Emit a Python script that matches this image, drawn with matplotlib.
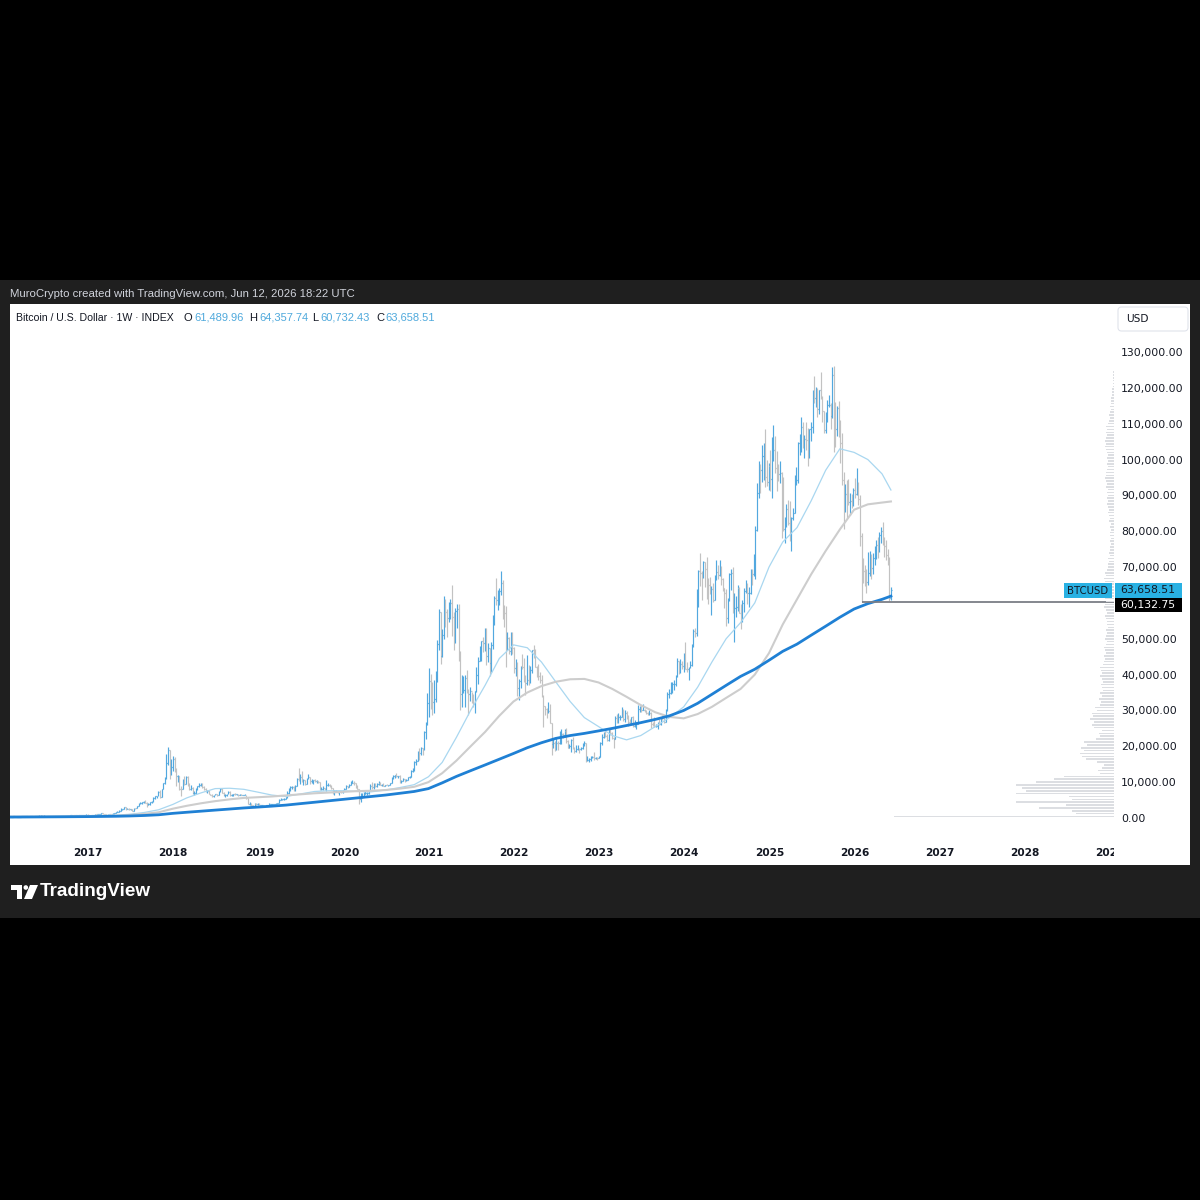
#BTCUSD weekly bars with 50/100/200 week SMAs and volume profile (TradingView export look)
import numpy as np
import pandas as pd
import matplotlib
matplotlib.use("Agg")
import matplotlib.pyplot as plt
import matplotlib.dates as mdates
from matplotlib.collections import LineCollection
from matplotlib.patches import Rectangle, FancyBboxPatch, Circle, Polygon
from matplotlib.ticker import FuncFormatter

#----------weekly bars, thousands of USD, weeks from Mon 2016-01-04 to 2026-06-08 /------------------------------
first_open_k = 0.43

close_k = [
    # 2016
    0.45, 0.38, 0.40, 0.37, 0.38, 0.40, 0.44, 0.43, 0.41, 0.41, 0.41, 0.42, 0.42,
    0.42, 0.43, 0.45, 0.46, 0.46, 0.46, 0.44, 0.53, 0.58, 0.67, 0.76, 0.63, 0.67,
    0.65, 0.66, 0.65, 0.62, 0.59, 0.58, 0.58, 0.57, 0.61, 0.61, 0.61, 0.60, 0.61,
    0.64, 0.65, 0.70, 0.73, 0.71, 0.70, 0.74, 0.74, 0.77, 0.78, 0.79, 0.90, 0.97,
    # 2017
    0.91, 0.82, 0.92, 0.92, 1.02, 1.01, 1.05, 1.19, 1.26, 1.24, 1.02, 0.97, 1.08,
    1.21, 1.18, 1.25, 1.35, 1.56, 1.72, 2.05, 2.19, 2.50, 2.98, 2.52, 2.59, 2.49,
    2.51, 1.93, 2.75, 2.73, 3.23, 4.06, 4.09, 4.35, 4.63, 4.15, 3.70, 3.78, 4.37,
    4.60, 5.69, 6.00, 6.14, 7.36, 5.95, 8.00, 9.70, 11.25, 15.3, 19.1, 13.9, 14.2,
    # 2018
    16.5, 13.6, 11.6, 11.8, 8.2, 8.1, 10.4, 9.6, 11.5, 9.5, 8.2, 8.4, 6.9,
    7.0, 8.3, 8.9, 9.3, 9.6, 8.7, 8.2, 7.3, 7.6, 6.7, 6.5, 6.2, 6.4,
    6.7, 6.35, 7.4, 8.2, 7.0, 6.3, 6.4, 6.7, 7.2, 6.3, 6.5, 6.7, 6.6,
    6.6, 6.5, 6.5, 6.4, 6.4, 6.4, 5.6, 4.0, 4.1, 3.6, 3.2, 4.0, 3.9, 4.0,
    # 2019
    3.5, 3.5, 3.6, 3.4, 3.6, 3.7, 3.8, 3.9, 3.9, 4.0, 4.0, 4.1, 5.1,
    5.1, 5.3, 5.3, 5.8, 7.0, 8.2, 8.7, 8.7, 7.6, 8.9, 10.9, 10.8,
    11.4, 10.2, 10.5, 9.5, 11.0, 11.4, 10.2, 10.2, 10.5, 10.3, 10.3, 10.0, 8.0, 8.1,
    8.3, 8.2, 9.2, 9.3, 8.8, 8.5, 7.4, 7.4, 7.5, 7.1, 7.5, 7.3, 7.8,
    # 2020
    8.2, 8.9, 8.6, 9.3, 9.9, 9.9, 9.7, 8.5, 8.0, 5.4, 5.8, 5.9, 6.8,
    6.9, 7.1, 7.7, 8.9, 8.7, 9.7, 8.8, 9.4, 9.7, 9.3, 9.3, 9.0, 9.3,
    9.2, 9.2, 9.7, 11.1, 11.8, 11.9, 11.6, 11.7, 10.3, 10.3, 11.0, 10.7, 10.7,
    11.4, 11.5, 13.1, 13.8, 15.5, 16.0, 18.7, 18.2, 19.4, 19.2, 23.9, 26.3, 32.2,
    # 2021
    38.2, 36.0, 32.3, 33.1, 39.3, 48.6, 57.4, 45.2, 51.0, 59.0, 57.4, 55.8, 57.0,
    60.0, 56.2, 49.0, 57.8, 58.2, 46.4, 34.7, 35.7, 35.8, 39.1, 35.6, 34.7, 35.3,
    33.8, 31.8, 35.4, 39.9, 43.8, 47.0, 49.3, 48.8, 51.8, 45.1, 47.3, 43.2, 48.2,
    54.7, 61.5, 60.9, 61.3, 63.3, 65.5, 59.0, 57.3, 49.4, 50.1, 46.7, 50.8, 47.3,
    # 2022
    41.9, 43.1, 36.3, 38.2, 42.4, 42.2, 38.3, 37.7, 38.4, 37.8, 41.3, 46.8, 46.4,
    42.2, 39.7, 39.5, 38.5, 34.1, 31.3, 30.3, 29.5, 29.9, 26.6, 20.6, 21.0, 19.3,
    20.9, 20.8, 22.6, 23.3, 23.2, 24.3, 21.5, 19.6, 20.0, 21.8, 19.4, 18.8, 19.3,
    19.4, 19.2, 19.6, 20.6, 20.9, 16.3, 16.3, 16.5, 17.1, 17.1, 16.8, 16.8, 16.6,
    # 2023
    17.1, 20.9, 22.7, 23.7, 22.9, 21.8, 24.3, 23.6, 22.4, 22.1, 28.0, 27.9, 28.2,
    28.3, 30.3, 27.6, 29.2, 28.4, 26.9, 26.8, 28.1, 25.8, 25.8, 26.3, 30.5, 30.6,
    30.2, 30.2, 29.8, 29.3, 29.0, 29.4, 26.1, 26.0, 25.8, 25.8, 26.5, 26.3, 28.0,
    27.9, 26.9, 30.0, 34.5, 35.0, 37.1, 37.4, 37.4, 39.5, 43.8, 41.4, 43.0, 42.3,
    # 2024
    43.9, 41.7, 41.6, 42.0, 42.6, 48.3, 52.1, 51.7, 63.1, 68.9, 68.4, 67.2, 71.3,
    69.4, 65.7, 64.9, 63.1, 64.0, 60.8, 66.9, 68.5, 67.8, 69.6, 66.7, 64.2, 62.7,
    55.9, 60.8, 68.2, 68.3, 58.1, 58.7, 58.9, 64.2, 57.3, 54.8, 59.9, 63.3, 65.6, 62.8,
    62.9, 69.0, 68.0, 68.7, 80.4, 90.6, 97.9, 97.2, 101.1, 104.4, 95.1, 93.7, 98.3,
    # 2025
    94.5, 101.1, 102.6, 97.7, 96.5, 96.1, 96.3, 94.2, 80.7, 82.6, 86.1, 82.3, 78.4,
    83.8, 85.2, 93.7, 94.3, 104.6, 106.5, 109.0, 104.6, 105.7, 105.5, 100.9, 108.4, 109.2,
    119.1, 117.3, 119.4, 114.2, 119.3, 117.4, 113.5, 108.2, 111.1, 115.3, 115.3, 112.2, 123.5,
    115.0, 108.6, 114.5, 110.5, 104.7, 94.4, 86.8, 90.4, 89.5, 88.2, 88.4, 87.6, 91.5,
    # 2026
    90.5, 93.5, 89.0, 78.7, 70.5, 68.8, 67.5, 65.8, 68.4, 71.5, 69.8, 72.4, 74.6,
    76.2, 75.0, 78.9, 80.2, 77.4, 76.0, 73.4, 72.5, 61.49, 63.66,
]

high_k = [
    # 2016
    0.46, 0.45, 0.41, 0.41, 0.39, 0.41, 0.45, 0.44, 0.44, 0.42, 0.42, 0.42, 0.43,
    0.43, 0.43, 0.45, 0.47, 0.47, 0.46, 0.46, 0.55, 0.59, 0.72, 0.78, 0.77, 0.70,
    0.68, 0.68, 0.68, 0.66, 0.63, 0.60, 0.59, 0.59, 0.61, 0.61, 0.62, 0.61, 0.61,
    0.64, 0.65, 0.71, 0.74, 0.74, 0.72, 0.75, 0.75, 0.77, 0.78, 0.79, 0.90, 0.98,
    # 2017
    1.15, 0.91, 0.93, 0.93, 1.04, 1.06, 1.06, 1.20, 1.27, 1.29, 1.25, 1.12, 1.10,
    1.21, 1.22, 1.26, 1.35, 1.58, 1.84, 2.11, 2.76, 2.60, 3.00, 2.98, 2.77, 2.69,
    2.63, 2.53, 2.84, 2.78, 3.28, 4.25, 4.49, 4.40, 4.77, 4.98, 4.43, 4.17, 4.40,
    4.63, 5.86, 6.10, 6.20, 7.49, 7.89, 8.12, 9.76, 11.4, 17.9, 19.8, 19.1, 16.5,
    # 2018
    17.2, 17.1, 14.0, 12.1, 11.8, 8.9, 10.9, 11.8, 11.7, 11.7, 9.9, 9.2, 8.6,
    7.5, 8.5, 8.9, 9.8, 9.8, 9.7, 8.9, 8.5, 7.7, 7.8, 6.8, 6.8, 6.5,
    6.8, 6.8, 7.6, 8.5, 8.3, 7.2, 6.6, 6.8, 7.4, 7.4, 6.6, 6.8, 6.9,
    6.7, 6.7, 6.8, 6.6, 6.5, 6.6, 6.5, 5.7, 4.4, 4.3, 3.6, 4.2, 4.2, 4.1,
    # 2019
    4.2, 3.7, 3.6, 3.6, 3.7, 3.7, 4.2, 3.9, 3.9, 4.0, 4.1, 4.2, 5.3,
    5.5, 5.4, 5.6, 5.9, 7.5, 8.4, 8.8, 9.0, 8.8, 9.1, 11.2, 13.9,
    12.2, 13.2, 11.0, 10.6, 11.1, 12.3, 11.5, 10.9, 10.6, 10.9, 10.5, 10.3, 10.1, 8.6,
    8.8, 8.4, 10.5, 9.9, 9.5, 9.1, 8.5, 7.9, 7.8, 7.6, 7.6, 7.6, 7.8,
    # 2020
    8.5, 9.2, 8.9, 9.6, 10.2, 10.5, 10.2, 9.9, 9.2, 8.2, 6.9, 6.9, 7.2,
    7.5, 7.3, 7.8, 9.5, 10.0, 9.9, 9.9, 9.7, 10.4, 10.0, 9.6, 9.8, 9.3,
    9.4, 9.3, 9.8, 11.4, 11.9, 12.1, 12.5, 11.8, 12.1, 10.6, 11.1, 11.0, 10.9,
    11.5, 11.7, 13.3, 14.0, 15.9, 16.5, 18.8, 19.4, 19.9, 19.4, 24.3, 26.9, 34.8,
    # 2021
    41.9, 40.1, 37.9, 38.5, 40.9, 49.7, 58.4, 57.5, 52.6, 61.8, 61.0, 58.4, 60.2,
    61.0, 64.9, 57.5, 58.5, 59.6, 59.6, 46.6, 40.0, 39.5, 40.0, 41.3, 36.0, 36.6,
    35.1, 34.6, 35.4, 42.2, 44.8, 48.1, 49.4, 50.5, 52.9, 52.9, 48.8, 47.4, 49.2,
    56.6, 62.0, 67.0, 63.7, 64.3, 69.0, 66.3, 59.4, 59.1, 51.9, 50.5, 51.8, 52.0,
    # 2022
    47.6, 44.4, 43.5, 38.9, 42.5, 45.8, 44.7, 39.8, 45.4, 42.6, 42.3, 47.0, 48.2,
    47.1, 42.4, 42.9, 40.8, 40.0, 34.3, 31.3, 30.6, 32.4, 31.7, 26.6, 21.9, 21.5,
    22.5, 21.6, 24.3, 24.7, 23.6, 24.9, 25.2, 21.8, 20.6, 21.9, 22.7, 19.9, 20.4,
    20.5, 19.5, 19.7, 20.9, 21.5, 21.0, 17.2, 16.8, 17.4, 17.4, 18.4, 17.0, 16.9,
    # 2023
    17.2, 21.3, 23.4, 23.9, 24.2, 23.4, 25.2, 25.1, 23.9, 22.6, 28.4, 28.9, 29.2,
    28.8, 31.0, 30.5, 30.0, 29.8, 28.6, 27.7, 28.2, 28.4, 27.4, 26.8, 31.4, 31.3,
    31.4, 31.8, 30.4, 30.0, 29.7, 30.2, 29.7, 26.8, 28.2, 26.1, 26.8, 27.5, 28.0,
    28.6, 28.0, 30.4, 35.2, 35.9, 38.0, 37.9, 38.4, 40.0, 44.7, 43.8, 44.4, 43.8,
    # 2024
    45.9, 49.0, 43.5, 42.2, 43.9, 48.6, 52.8, 52.9, 64.0, 69.1, 73.8, 68.9, 71.8,
    71.3, 72.8, 66.9, 67.2, 64.7, 65.5, 67.7, 71.9, 70.6, 71.9, 70.2, 66.9, 64.2,
    63.8, 61.4, 68.4, 69.4, 70.0, 62.7, 61.8, 65.0, 64.5, 59.8, 60.7, 64.1, 66.5, 65.6,
    64.5, 69.5, 69.5, 73.6, 81.5, 93.5, 99.6, 98.7, 104.0, 104.5, 108.4, 99.9, 99.0,
    # 2025
    102.7, 106.4, 109.6, 106.5, 102.5, 98.8, 99.5, 96.5, 95.0, 84.1, 87.5, 88.8, 88.5,
    83.9, 86.4, 95.8, 97.9, 104.9, 107.1, 111.9, 110.4, 106.8, 110.5, 108.9, 108.5, 110.6,
    119.5, 123.2, 120.2, 119.9, 119.5, 124.5, 117.6, 113.6, 113.4, 116.7, 117.9, 115.9, 125.9,
    126.2, 116.0, 114.9, 116.4, 111.0, 107.5, 96.6, 93.1, 94.2, 94.6, 90.6, 90.4, 92.1,
    # 2026
    94.8, 97.6, 93.8, 90.2, 79.4, 72.4, 70.6, 69.4, 74.2, 74.5, 73.6, 74.0, 76.0,
    77.5, 78.4, 79.9, 81.2, 82.6, 78.3, 77.6, 75.1, 72.8, 64.36,
]

low_k = [
    # 2016
    0.42, 0.37, 0.37, 0.36, 0.36, 0.37, 0.40, 0.42, 0.40, 0.40, 0.40, 0.41, 0.41,
    0.41, 0.42, 0.43, 0.44, 0.44, 0.44, 0.43, 0.44, 0.52, 0.57, 0.66, 0.55, 0.62,
    0.63, 0.64, 0.64, 0.61, 0.48, 0.57, 0.57, 0.56, 0.57, 0.60, 0.60, 0.59, 0.59,
    0.60, 0.63, 0.64, 0.69, 0.69, 0.69, 0.68, 0.72, 0.73, 0.75, 0.76, 0.78, 0.89,
    # 2017
    0.78, 0.75, 0.82, 0.88, 0.91, 0.96, 0.99, 1.04, 1.15, 1.10, 0.94, 0.89, 0.93,
    1.05, 1.15, 1.17, 1.23, 1.35, 1.55, 1.70, 1.95, 2.10, 2.49, 2.16, 2.38, 2.35,
    2.34, 1.84, 1.92, 2.55, 2.70, 3.22, 3.81, 3.95, 4.21, 4.10, 2.97, 3.50, 3.76,
    4.15, 4.60, 5.39, 5.59, 6.04, 5.56, 5.85, 7.98, 9.35, 10.8, 14.8, 10.9, 12.1,
    # 2018
    13.2, 12.8, 9.0, 10.0, 7.7, 6.0, 8.0, 9.3, 9.4, 9.0, 7.7, 7.9, 6.6,
    6.4, 6.6, 7.9, 8.7, 9.0, 8.4, 7.9, 7.2, 7.0, 6.6, 6.3, 5.8, 5.8,
    6.3, 6.1, 6.3, 7.3, 6.9, 6.1, 5.9, 6.2, 6.7, 6.1, 6.2, 6.2, 6.4,
    6.5, 6.2, 6.4, 6.3, 6.3, 6.3, 5.2, 3.8, 3.7, 3.4, 3.2, 3.2, 3.6, 3.7,
    # 2019
    3.5, 3.5, 3.5, 3.4, 3.4, 3.6, 3.7, 3.7, 3.7, 3.8, 3.9, 3.9, 4.1,
    4.9, 5.0, 5.0, 5.2, 5.6, 6.6, 7.5, 8.0, 7.5, 7.5, 8.9, 10.3,
    9.6, 10.1, 9.1, 9.2, 9.4, 10.9, 9.5, 9.9, 9.4, 10.0, 9.9, 9.8, 7.8, 7.7,
    7.8, 7.9, 7.4, 8.9, 8.7, 8.0, 6.8, 6.5, 7.2, 7.0, 6.5, 7.1, 6.9,
    # 2020
    7.7, 8.1, 8.3, 8.6, 9.1, 9.7, 9.3, 8.4, 8.0, 3.9, 4.4, 5.7, 5.9,
    6.8, 6.5, 6.8, 7.6, 8.1, 8.2, 8.7, 8.6, 9.3, 9.1, 8.9, 8.8, 8.9,
    9.1, 9.0, 9.1, 9.7, 10.9, 11.1, 11.4, 11.1, 9.9, 9.9, 10.3, 10.1, 10.4,
    10.5, 11.2, 11.4, 12.9, 13.2, 14.8, 15.8, 16.2, 17.6, 17.6, 19.0, 22.0, 26.0,
    # 2021
    28.1, 30.4, 28.8, 29.3, 32.3, 38.0, 47.0, 43.0, 45.0, 50.0, 53.3, 50.4, 54.7,
    55.5, 50.9, 47.0, 48.8, 53.0, 43.8, 30.0, 31.1, 34.8, 31.0, 34.8, 28.8, 32.7,
    32.2, 31.0, 29.3, 35.2, 37.5, 43.7, 43.9, 46.4, 46.6, 42.8, 43.4, 39.6, 40.8,
    47.2, 53.9, 59.5, 58.1, 59.5, 62.3, 55.6, 53.3, 42.0, 46.8, 45.7, 45.6, 45.7,
    # 2022
    40.5, 39.7, 34.0, 32.9, 36.3, 41.7, 37.9, 34.3, 37.2, 37.2, 37.6, 40.5, 44.6,
    42.1, 39.2, 38.6, 37.7, 33.7, 25.3, 28.7, 28.0, 29.3, 26.6, 17.6, 19.6, 18.6,
    19.0, 18.9, 20.7, 20.7, 22.4, 22.7, 20.8, 19.5, 19.6, 18.5, 19.3, 18.1, 18.5,
    19.1, 18.2, 18.9, 19.2, 20.0, 15.5, 15.8, 15.5, 16.0, 16.7, 16.3, 16.4, 16.3,
    # 2023
    16.6, 17.1, 20.4, 22.3, 22.5, 21.4, 21.4, 23.1, 21.9, 19.6, 21.9, 26.6, 26.5,
    27.3, 28.2, 27.1, 26.9, 27.7, 25.8, 26.1, 26.1, 25.4, 25.4, 24.8, 26.3, 29.6,
    29.7, 30.0, 29.5, 28.9, 28.6, 28.7, 25.2, 25.8, 25.4, 25.4, 24.9, 26.0, 26.0,
    27.2, 26.6, 26.9, 29.9, 33.4, 34.5, 34.8, 35.6, 36.9, 39.2, 40.2, 40.5, 41.5,
    # 2024
    40.8, 41.5, 40.6, 38.5, 41.9, 42.5, 47.7, 50.6, 50.9, 59.0, 64.7, 60.8, 66.9,
    64.5, 61.1, 59.6, 62.4, 56.6, 60.2, 60.7, 66.3, 66.6, 67.5, 65.1, 63.4, 58.5,
    53.5, 54.3, 60.6, 63.5, 57.2, 49.0, 56.1, 57.8, 57.2, 52.6, 54.6, 57.6, 62.7, 59.8,
    58.9, 62.4, 65.1, 67.4, 66.8, 80.2, 89.4, 90.8, 93.6, 94.2, 92.2, 92.5, 91.5,
    # 2025
    91.2, 89.3, 99.5, 96.2, 91.2, 94.1, 93.4, 78.2, 80.0, 76.6, 81.2, 81.6, 77.2,
    74.5, 83.1, 85.1, 92.8, 93.4, 101.4, 102.0, 103.1, 100.4, 102.7, 98.3, 100.4, 105.3,
    107.5, 115.7, 114.7, 112.0, 112.6, 116.8, 110.6, 107.3, 107.3, 110.6, 114.7, 108.6, 111.7,
    102.0, 103.5, 106.7, 106.3, 98.9, 93.0, 80.6, 85.3, 83.8, 87.3, 84.5, 86.5, 86.9,
    # 2026
    89.4, 90.2, 87.4, 75.8, 60.13, 65.6, 64.6, 62.9, 65.1, 67.6, 66.8, 68.2, 70.7,
    72.2, 72.6, 74.1, 76.8, 76.1, 72.7, 72.1, 70.6, 60.5, 60.73,
]

#----------moving averages, thousands of USD, every 2nd month 2016-01 .. 2026-05 + last bar-----------
ma50_k = [
    0.33, 0.35, 0.37, 0.42, 0.46, 0.53,
    0.60, 0.68, 0.78, 1.05, 1.55, 2.3,
    3.8, 5.6, 7.0, 8.2, 8.3, 8.0,
    7.2, 6.4, 6.0, 6.7, 7.4, 7.6,
    7.6, 7.4, 7.3, 7.8, 8.5, 9.3,
    11.5, 15.5, 22.5, 30.0, 37.0, 44.5,
    48.3, 47.5, 43.5, 38.0, 32.5, 28.0,
    25.5, 23.0, 21.8, 23.0, 25.5, 28.0,
    31.0, 36.5, 43.5, 50.0, 54.5, 60.0,
    70.0, 77.0, 81.0, 88.5, 97.0, 103.0,
    102.0, 100.0, 96.0, 91.5,
]
ma100_k = [
    0.38, 0.35, 0.33, 0.35, 0.38, 0.42,
    0.47, 0.55, 0.65, 0.85, 1.15, 1.6,
    2.6, 3.4, 4.1, 4.7, 5.2, 5.6,
    5.8, 6.0, 6.3, 6.6, 6.9, 7.1,
    7.3, 7.5, 7.6, 7.8, 8.2, 8.7,
    10.0, 12.5, 16.0, 20.0, 24.0, 28.5,
    32.5, 35.0, 36.8, 38.0, 38.7, 38.8,
    37.8, 36.0, 33.8, 31.5, 29.5, 28.2,
    27.8, 29.0, 31.0, 33.5, 36.0, 40.0,
    46.0, 54.0, 61.0, 68.0, 74.5, 80.5,
    86.0, 87.5, 88.0, 88.3,
]
ma200_k = [
    0.25, 0.27, 0.29, 0.31, 0.33, 0.36,
    0.39, 0.43, 0.48, 0.57, 0.70, 0.90,
    1.3, 1.6, 1.9, 2.2, 2.5, 2.8,
    3.05, 3.3, 3.6, 4.0, 4.4, 4.8,
    5.2, 5.6, 6.0, 6.4, 6.9, 7.4,
    8.2, 9.8, 11.6, 13.2, 14.8, 16.4,
    18.0, 19.6, 21.0, 22.2, 23.0, 23.6,
    24.3, 25.0, 25.8, 26.6, 27.5, 28.5,
    30.0, 32.0, 34.5, 37.0, 39.5, 41.5,
    44.0, 46.5, 48.5, 51.0, 53.5, 56.0,
    58.3, 59.8, 61.0, 61.9,
]

#----------visible range volume profile, rows of 800 USD from 0 (relative volume)-----------
vp_row_usd = 800
vp_volume = [
    220, 38, 42, 75, 48, 98, 42, 45, 98, 88,
    92, 98, 78, 60, 50, 14, 16, 12, 10, 17,
    28, 32, 34, 30, 33, 27, 30, 18, 14, 15,
    12, 20, 22, 20, 24, 21, 22, 17, 19, 14,
    13, 15, 12, 14, 11, 12, 13, 11, 12, 14,
    12, 13, 14, 11, 10, 9, 10, 8, 9, 10,
    8, 7, 9, 8, 7, 8, 6, 7, 7, 8,
    9, 7, 8, 10, 9, 8, 9, 7, 8, 10,
    9, 8, 9, 10, 8, 9, 7, 6, 6, 5,
    6, 4, 5, 4, 4, 3, 4, 3, 4, 4,
    3, 4, 3, 5, 4, 5, 6, 5, 6, 7,
    6, 7, 6, 7, 6, 8, 7, 8, 9, 8,
    8, 7, 6, 7, 6, 7, 6, 7, 8, 9,
    8, 9, 8, 7, 8, 7, 8, 6, 5, 4,
    5, 4, 3, 4, 3, 3, 3, 2, 2, 2,
    1, 1, 1, 1, 1, 1,
]

#----------labels-----------
last_ohlc = [61489.96, 64357.74, 60732.43, 63658.51]
ray_level = 60132.75
ray_start = '2026-02-02'
price_ticks = list(range(0, 130001, 10000))
year_labels = ['2017', '2018', '2019', '2020', '2021', '2022', '2023',
               '2024', '2025', '2026', '2027', '2028', '2029']
year_first_bar = ['2017-01-02', '2018-01-01', '2019-01-07', '2020-01-06', '2021-01-04',
                  '2022-01-03', '2023-01-02', '2024-01-01', '2025-01-06', '2026-01-05',
                  '2027-01-04', '2028-01-03', '2029-01-01']

UP = '#52a8df'
DOWN = '#c2c2c2'
TXT = '#131722'
CYAN = '#29b1e3'

W = H = 1200.0
def fx(px):
    return px / W
def fy(py):
    return 1 - py / H

fig = plt.figure(figsize=(12, 12), dpi=100, facecolor='black')

# dark frame + white chart panel
fig.patches.append(Rectangle((0, fy(918)), 1, (918 - 280) / H, transform=fig.transFigure,
                             facecolor='#1f1f1f', edgecolor='none', zorder=-3))
fig.patches.append(Rectangle((fx(10), fy(865)), (1190 - 10) / W, (865 - 304) / H,
                             transform=fig.transFigure, facecolor='white',
                             edgecolor='none', zorder=-2))

ax = fig.add_axes([fx(10), fy(865), (1114 - 10) / W, (865 - 304) / H])
ax.patch.set_alpha(0)
for s in ax.spines.values():
    s.set_visible(False)
ax.set_xlim(pd.Timestamp('2016-02-02'), pd.Timestamp('2029-01-20'))
ax.set_ylim(-13112, 143390)

# volume profile on a twin axis measured in pixels from the right edge
vp = ax.twiny()
vp.patch.set_alpha(0)
for s in vp.spines.values():
    s.set_visible(False)
vp.set_xlim(1104, 0)
vp.set_xticks([])
rows = np.arange(len(vp_volume)) * vp_row_usd + vp_row_usd / 2
vp.barh(rows, vp_volume, height=vp_row_usd * 0.55, left=0, color='#dcdee2', zorder=1)

# OHLC bars
dates = pd.date_range('2016-01-04', periods=len(close_k), freq='W-MON')
x = mdates.date2num(dates)
c = np.array(close_k) * 1000
h = np.array(high_k) * 1000
l = np.array(low_k) * 1000
o = np.concatenate([[first_open_k * 1000], c[:-1]])
segs, cols = [], []
half = 3.0
for i in range(len(x)):
    col = UP if c[i] >= o[i] else DOWN
    segs.append([(x[i], l[i]), (x[i], h[i])])
    segs.append([(x[i] - half, o[i]), (x[i], o[i])])
    segs.append([(x[i], c[i]), (x[i] + half, c[i])])
    cols += [col] * 3
ax.add_collection(LineCollection(segs, colors=cols, linewidths=0.85, zorder=2))

# moving averages
ma_dates = list(pd.date_range('2016-01-01', '2026-05-01', freq='2MS')) + [dates[-1]]
ax.plot(ma_dates, np.array(ma50_k) * 1000, color='#a9d7f0', lw=0.9, zorder=3)
ax.plot(ma_dates, np.array(ma100_k) * 1000, color='#cdcdcd', lw=1.5, zorder=3)
ax.plot(ma_dates, np.array(ma200_k) * 1000, color='#1f80d4', lw=2.0, zorder=4)

# horizontal ray at the Feb low
ax.hlines(ray_level, mdates.date2num(pd.Timestamp(ray_start)), ax.get_xlim()[1],
          color='#7b7e86', lw=1.3, zorder=5)

# price scale
ax.set_xticks([])
ax.set_yticks(price_ticks)
ax.yaxis.tick_right()
ax.yaxis.set_major_formatter(FuncFormatter(lambda v, p: f'{v:,.2f}'))
ax.tick_params(axis='y', length=0, pad=5, labelsize=7.8, labelcolor=TXT)

# time scale
for lab, d in zip(year_labels, year_first_bar):
    ax.text(pd.Timestamp(d), (865 - 853) / (865 - 304), lab, transform=ax.get_xaxis_transform(),
            ha='center', va='center', fontsize=7.6, fontweight='bold', color=TXT, clip_on=True)

# header texts
fig.text(fx(10), fy(294), 'MuroCrypto created with TradingView.com, Jun 12, 2026 18:22 UTC',
         color='#d1d4dc', fontsize=8.2, family='Liberation Sans', va='center')
fig.text(fx(16), fy(318), 'Bitcoin / U.S. Dollar \u00b7 1W \u00b7 INDEX', color=TXT,
         fontsize=7.6, family='Liberation Sans', va='center')
for key, kx, vx, val in zip('OHLC', [184, 249, 312, 376], [194, 259, 320, 385], last_ohlc):
    fig.text(fx(kx), fy(318), key, color=TXT, fontsize=8, family='Liberation Sans', va='center')
    fig.text(fx(vx), fy(318), f'{val:,.2f}', color='#4fa9dc', fontsize=8,
             family='Liberation Sans', va='center')

# USD box
fig.patches.append(FancyBboxPatch((fx(1118), fy(331)), (1188 - 1118) / W, (331 - 307) / H,
                                  boxstyle='round,pad=0,rounding_size=0.003',
                                  transform=fig.transFigure, facecolor='white',
                                  edgecolor='#e0e3eb', lw=0.8, zorder=5))
fig.text(fx(1126), fy(319), 'USD', color=TXT, fontsize=7.6, va='center', zorder=6)

# last price / ray labels
fig.patches.append(Rectangle((fx(1064), fy(598)), 48 / W, 15 / H, transform=fig.transFigure,
                             facecolor=CYAN, edgecolor='none', zorder=5))
fig.text(fx(1088), fy(590.5), 'BTCUSD', color=TXT, fontsize=7.3, ha='center', va='center', zorder=6)
fig.patches.append(Rectangle((fx(1115), fy(598)), 67 / W, 15 / H, transform=fig.transFigure,
                             facecolor=CYAN, edgecolor='none', zorder=5))
fig.text(fx(1120), fy(590.5), f'{last_ohlc[3]:,.2f}', color=TXT, fontsize=7.8, va='center', zorder=6)
fig.patches.append(Rectangle((fx(1115), fy(612)), 67 / W, 14 / H, transform=fig.transFigure,
                             facecolor='black', edgecolor='none', zorder=5))
fig.text(fx(1120), fy(605), f'{ray_level:,.2f}', color='white', fontsize=7.8, va='center', zorder=6)

# TradingView logo
def pxpoly(pts, **kw):
    return Polygon([(fx(a), fy(b)) for a, b in pts], closed=True, transform=fig.transFigure, **kw)
fig.patches.append(pxpoly([(11, 885), (22, 885), (22, 899), (17, 899), (17, 889.5), (11, 889.5)],
                          facecolor='white', edgecolor='none', zorder=5))
fig.patches.append(Circle((fx(25.8), fy(887.5)), 2.3 / W, transform=fig.transFigure,
                          facecolor='white', edgecolor='none', zorder=5))
fig.patches.append(pxpoly([(30, 885), (38, 885), (32, 899), (24, 899)],
                          facecolor='white', edgecolor='none', zorder=5))
fig.text(fx(40), fy(892), 'TradingView', color='white', fontsize=13.6, fontweight='bold',
         family='Liberation Sans', va='center')

plt.savefig('out.png', dpi=100, facecolor='black')
